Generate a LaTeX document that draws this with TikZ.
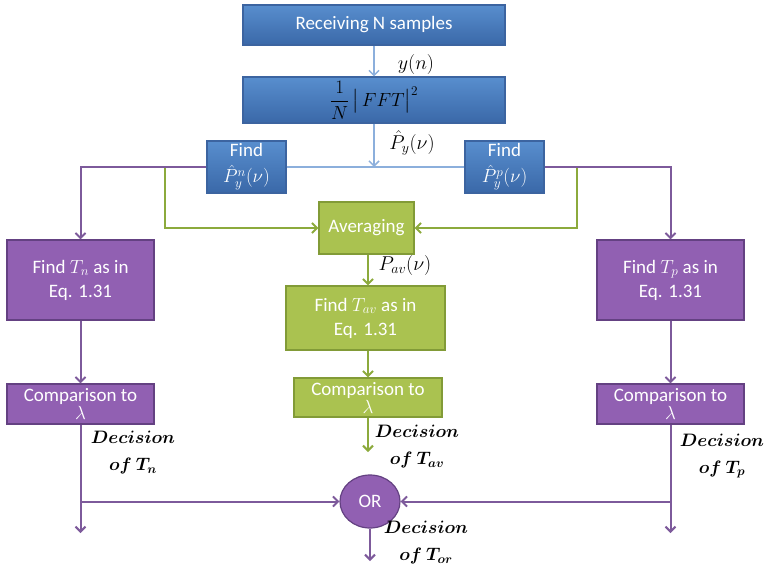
\RequirePackage{fix-cm}
\documentclass[tikz,border=0pt]{standalone}
\usepackage{fontspec}
\setmainfont{Carlito}
\usepackage{amsmath,amssymb,bm}
\usetikzlibrary{positioning,arrows.meta,shapes.geometric}
\definecolor{topblue}{RGB}{88,142,206}
\definecolor{botblue}{RGB}{58,104,168}
\definecolor{edgeblue}{RGB}{60,100,160}
\definecolor{lineblue}{RGB}{140,175,220}
\definecolor{boxpurple}{RGB}{145,96,178}
\definecolor{edgepurple}{RGB}{100,65,130}
\definecolor{linepurple}{RGB}{125,90,155}
\definecolor{boxgreen}{RGB}{170,194,80}
\definecolor{edgegreen}{RGB}{130,155,55}
\definecolor{linegreen}{RGB}{140,170,60}
\tikzset{
  basebox/.style={rectangle,inner sep=0pt,align=center,
    font=\fontsize{19}{24}\selectfont,line width=1.2pt},
  bluebox/.style={basebox,draw=edgeblue,top color=topblue,bottom color=botblue,text=white},
  purplebox/.style={basebox,draw=edgepurple,fill=boxpurple,text=white},
  greenbox/.style={basebox,draw=edgegreen,fill=boxgreen,text=white},
  decision/.style={align=center,inner sep=1pt,font=\fontsize{18}{27}\selectfont},
  edgelabel/.style={inner sep=1pt,font=\fontsize{20}{24}\selectfont},
  bluearrow/.style={draw=lineblue,line width=1.5pt,-{Straight Barb[length=5pt,width=10pt]}},
  purplearrow/.style={draw=linepurple,line width=2pt,-{Straight Barb[length=5pt,width=10pt]}},
  greenarrow/.style={draw=linegreen,line width=2pt,-{Straight Barb[length=5pt,width=10pt]}},
}
\begin{document}
\begin{tikzpicture}[x=1pt,y=-1pt]
  \useasboundingbox (0,0) rectangle (766,568);

  % blue part
  \node[bluebox,minimum width=262,minimum height=40] (recv) at (374,25) {Receiving N samples};
  \node[bluebox,minimum width=262,minimum height=46,text=black] (fft) at (374,100)
    {$\dfrac{1}{N}\,\big|\,FFT\big|^{2}$};
  \node[bluebox,minimum width=79,minimum height=52] (findn) at (246.5,167)
    {Find\\[2pt]$\hat P_y^n(\nu)$};
  \node[bluebox,minimum width=79,minimum height=52] (findp) at (504.5,167)
    {Find\\[2pt]$\hat P_y^p(\nu)$};
  \coordinate (split) at (374,167);

  \draw[bluearrow] (recv.south -| split) -- (fft.north -| split);
  \node[edgelabel] (yn) at (416,64) {$y(n)$};
  \draw[bluearrow] (fft.south -| split) -- (split);
  \node[edgelabel] (py) at (412,143) {$\hat P_y(\nu)$};
  \draw[draw=lineblue,line width=1.5pt] (findn.east) -- (findp.west);

  % averaging branch
  \node[greenbox,minimum width=95,minimum height=52] (avg) at (366.5,228) {Averaging};
  \node[greenbox,minimum width=159,minimum height=64] (tav) at (365.5,318)
    {Find $T_{av}$ as in\\Eq. 1.31};
  \node[greenbox,minimum width=148,minimum height=39] (cmpav) at (368,397.5)
    {Comparison to\\[-6pt]$\lambda$};
  \coordinate (gn) at (165,167);
  \coordinate (gp) at (577,167);
  \coordinate (avend) at (368,452);

  \draw[greenarrow] (gn) |- (avg.west);
  \draw[greenarrow] (gp) |- (avg.east);
  \draw[greenarrow] (avg.south -| avend) -- (tav.north -| avend);
  \node[edgelabel] (pav) at (405,265) {$P_{av}(\nu)$};
  \draw[greenarrow] (tav.south -| avend) -- (cmpav.north -| avend);
  \draw[greenarrow] (cmpav.south -| avend) -- (avend);
  \node[decision] (decav) at (417,447) {$\bm{Decision}$\\$\bm{of\ T_{av}}$};

  % noise and signal branches
  \node[purplebox,minimum width=147,minimum height=80] (tn) at (80.5,280)
    {Find $T_n$ as in\\Eq. 1.31};
  \node[purplebox,minimum width=147,minimum height=80] (tp) at (670.5,280)
    {Find $T_p$ as in\\Eq. 1.31};
  \node[purplebox,minimum width=147,minimum height=40] (cmpn) at (80.5,404)
    {Comparison to\\[-6pt]$\lambda$};
  \node[purplebox,minimum width=147,minimum height=40] (cmpp) at (670.5,404)
    {Comparison to\\[-6pt]$\lambda$};
  \node[purplebox,ellipse,minimum width=60,minimum height=53] (orn) at (370,501.5) {OR};
  \coordinate (nend) at (80.5,533);
  \coordinate (pend) at (670.5,533);
  \coordinate (njoin) at (80.5,501.5);
  \coordinate (pjoin) at (670.5,501.5);
  \coordinate (orend) at (370,561);

  \draw[purplearrow] (findn.west) -| (tn.north);
  \draw[purplearrow] (findp.east) -| (tp.north);
  \draw[purplearrow] (tn.south) -- (cmpn.north);
  \draw[purplearrow] (tp.south) -- (cmpp.north);
  \draw[purplearrow] (cmpn.south) -- (nend);
  \draw[purplearrow] (cmpp.south) -- (pend);
  \draw[purplearrow] (njoin) -- (orn.west);
  \draw[purplearrow] (pjoin) -- (orn.east);
  \draw[purplearrow] (orn.south) -- (orend);

  \node[decision] (decn) at (133,453) {$\bm{Decision}$\\$\bm{of\ T_n}$};
  \node[decision] (decp) at (722,456) {$\bm{Decision}$\\$\bm{of\ T_p}$};
  \node[decision] (decor) at (426,543) {$\bm{Decision}$\\$\bm{of\ T_{or}}$};
\end{tikzpicture}
\end{document}
